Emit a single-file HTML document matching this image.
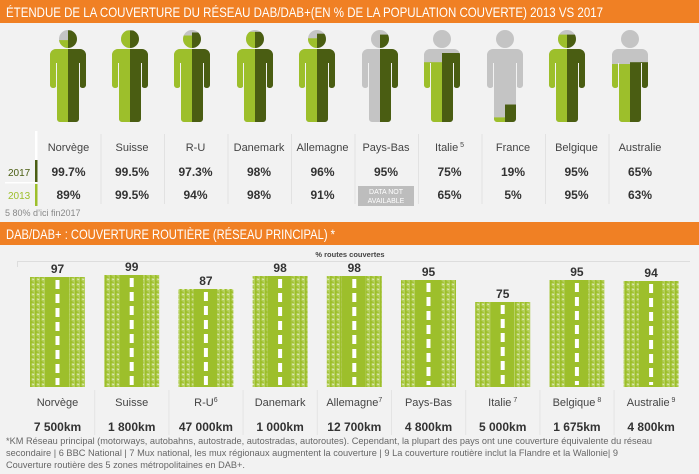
<!DOCTYPE html>
<html><head><meta charset="utf-8">
<style>
html,body{margin:0;padding:0;background:#f2f2f2;}
svg{display:block;font-family:"Liberation Sans",sans-serif;}
</style></head>
<body>
<svg id="s" width="699" height="474" viewBox="0 0 699 474" xmlns="http://www.w3.org/2000/svg">
<rect width="699" height="474" fill="#f2f2f2"/>
<defs>
<pattern id="grass" width="5" height="5" patternUnits="userSpaceOnUse">
<rect width="5" height="5" fill="#b5d05c"/>
<path d="M0 0 H1.5 V5 H0Z" fill="#9dbf2b"/>
<path d="M1.5 1 L4.5 2.5 L1.5 3Z" fill="#9dbf2b"/>
<path d="M2.5 3.5 L4.5 4.5 L2.5 5Z" fill="#eef3dc"/>
</pattern>
</defs>
<rect x="0" y="0" width="699" height="23" fill="#f08024"/>
<text x="6" y="17" fill="#fff" font-size="14" textLength="597" lengthAdjust="spacingAndGlyphs">ÉTENDUE DE LA COUVERTURE DU RÉSEAU DAB/DAB+(EN % DE LA POPULATION COUVERTE) 2013 VS 2017</text>
<rect x="0" y="222" width="699" height="23" fill="#f08024"/>
<text x="6" y="239" fill="#fff" font-size="14" textLength="329" lengthAdjust="spacingAndGlyphs">DAB/DAB+ : COUVERTURE ROUTIÈRE (RÉSEAU PRINCIPAL) *</text>
<g id="g"></g>
</svg>
<script>
(function(){
var g=document.getElementById('g'),h='';
var L='#9dbf2b',D='#4a5d12',G='#c4c4c4';
var figs=[[68,89,99.7],[130,99.5,99.5],[192,94,97.3],[255,98,98],[317,91,96],[380,0,95],[442,65,75],[505,5,19],[567,95,95],[630,63,65]];
figs.forEach(function(f,i){
 var c=f[0];
 var shape='<circle cx="'+c+'" cy="39" r="9"/><rect x="'+(c-18)+'" y="49" width="36" height="14" rx="6"/><rect x="'+(c-18)+'" y="53" width="6.5" height="35" rx="3"/><rect x="'+(c+11.5)+'" y="53" width="6.5" height="35" rx="3"/><rect x="'+(c-11)+'" y="49" width="22" height="73" rx="3"/>';
 h+='<clipPath id="c'+i+'">'+shape+'</clipPath>';
 var yl=122-92*f[1]/100, yd=122-92*f[2]/100;
 h+='<g clip-path="url(#c'+i+')"><rect x="'+(c-20)+'" y="28" width="40" height="96" fill="'+G+'"/>';
 h+='<rect x="'+(c-20)+'" y="'+yl+'" width="20" height="'+(124-yl)+'" fill="'+L+'"/>';
 h+='<rect x="'+c+'" y="'+yd+'" width="20" height="'+(124-yd)+'" fill="'+D+'"/></g>';
 h+='<rect x="'+(c-12)+'" y="63" width="1" height="26" fill="#f2f2f2"/><rect x="'+(c+11)+'" y="63" width="1" height="26" fill="#f2f2f2"/>';
});
var names=['Norvège','Suisse','R-U','Danemark','Allemagne','Pays-Bas','Italie','France','Belgique','Australie'];
var r17=['99.7%','99.5%','97.3%','98%','96%','95%','75%','19%','95%','65%'];
var r13=['89%','99.5%','94%','98%','91%','','65%','5%','95%','63%'];
for(var i=0;i<10;i++){
 var x0=37+63.5*i, cx=x0+31.5;
 if(i>0)h+='<rect x="'+x0+'" y="134" width="1" height="70" fill="#e2e2e2"/>';
 h+='<text x="'+cx+'" y="151" text-anchor="middle" font-size="11" fill="#444">'+names[i]+(i==6?'<tspan font-size="7" dy="-4"> 5</tspan>':'')+'</text>';
 h+='<text x="'+cx+'" y="176" text-anchor="middle" font-size="12" font-weight="bold" fill="#333">'+r17[i]+'</text>';
 if(r13[i])h+='<text x="'+cx+'" y="199" text-anchor="middle" font-size="12" font-weight="bold" fill="#333">'+r13[i]+'</text>';
}
h+='<rect x="358" y="186" width="56" height="20" fill="#bdbdbd"/><text x="386" y="194" text-anchor="middle" font-size="7" fill="#fff">DATA NOT</text><text x="386" y="203" text-anchor="middle" font-size="7" fill="#fff">AVAILABLE</text>';
h+='<rect x="35" y="131" width="2.5" height="29" fill="#fff"/><rect x="35" y="160" width="2.5" height="22" fill="'+D+'"/><rect x="35" y="184" width="2.5" height="22" fill="'+L+'"/>';
h+='<rect x="5" y="182" width="32" height="1.5" fill="#fff"/>';
h+='<text x="8" y="176" font-size="10" fill="'+D+'">2017</text><text x="8" y="199" font-size="10" fill="'+L+'">2013</text>';
h+='<text x="5" y="216" font-size="9" fill="#888">5 80% d\u2019ici fin2017</text>';
h+='<text x="350" y="257" text-anchor="middle" font-size="7.5" font-weight="bold" fill="#444">% routes couvertes</text>';
h+='<rect x="17" y="261" width="673" height="1" fill="#ddd"/><rect x="17" y="261" width="1" height="6" fill="#ddd"/>';
var rv=[97,99,87,98,98,95,75,95,94];
var rn=['Norvège','Suisse','R-U<tspan font-size="7" dy="-4">6</tspan>','Danemark','Allemagne<tspan font-size="7" dy="-4">7</tspan>','Pays-Bas','Italie<tspan font-size="7" dy="-4"> 7</tspan>','Belgique<tspan font-size="7" dy="-4"> 8</tspan>','Australie<tspan font-size="7" dy="-4"> 9</tspan>'];
var km=['7 500km','1 800km','47 000km','1 000km','12 700km','4 800km','5 000km','1 675km','4 800km'];
for(var i=0;i<9;i++){
 var x=30+74.2*i, cx=x+27.5, ht=Math.round(rv[i]*1.13), tp=387-ht;
 if(i>0)h+='<rect x="'+(x-10)+'" y="390" width="1" height="45" fill="#e4e4e4"/>';
 h+='<rect x="'+x+'" y="'+tp+'" width="15" height="'+ht+'" fill="url(#grass)"/>';
 h+='<rect x="'+(x+39)+'" y="'+tp+'" width="16" height="'+ht+'" fill="url(#grass)"/>';
 h+='<rect x="'+(x+15)+'" y="'+tp+'" width="24" height="'+ht+'" fill="#9dbf2b"/>';
 for(var y=tp+3;y<385;y+=14)h+='<rect x="'+(cx-2)+'" y="'+y+'" width="4" height="'+Math.min(9,385-y)+'" fill="#fff"/>';
 h+='<text x="'+cx+'" y="'+(tp-4)+'" text-anchor="middle" font-size="12" font-weight="bold" fill="#333">'+rv[i]+'</text>';
 h+='<text x="'+cx+'" y="406" text-anchor="middle" font-size="11" fill="#444">'+rn[i]+'</text>';
 h+='<text x="'+cx+'" y="431" text-anchor="middle" font-size="12" font-weight="bold" fill="#333">'+km[i]+'</text>';
}
h+='<text x="6" y="444" font-size="9.5" fill="#666" textLength="646" lengthAdjust="spacingAndGlyphs">*KM Réseau principal (motorways, autobahns, autostrade, autostradas, autoroutes). Cependant, la plupart des pays ont une couverture équivalente du réseau</text>';
h+='<text x="6" y="456" font-size="9.5" fill="#666" textLength="612" lengthAdjust="spacingAndGlyphs">secondaire |  6 BBC National   |   7 Mux  national, les mux régionaux augmentent la couverture | 9 La couverture routière inclut la Flandre et la Wallonie|  9</text>';
h+='<text x="6" y="468" font-size="9.5" fill="#666" textLength="239" lengthAdjust="spacingAndGlyphs">Couverture routière des 5 zones métropolitaines en DAB+.</text>';
g.innerHTML=h;
})();
</script>
</body></html>
